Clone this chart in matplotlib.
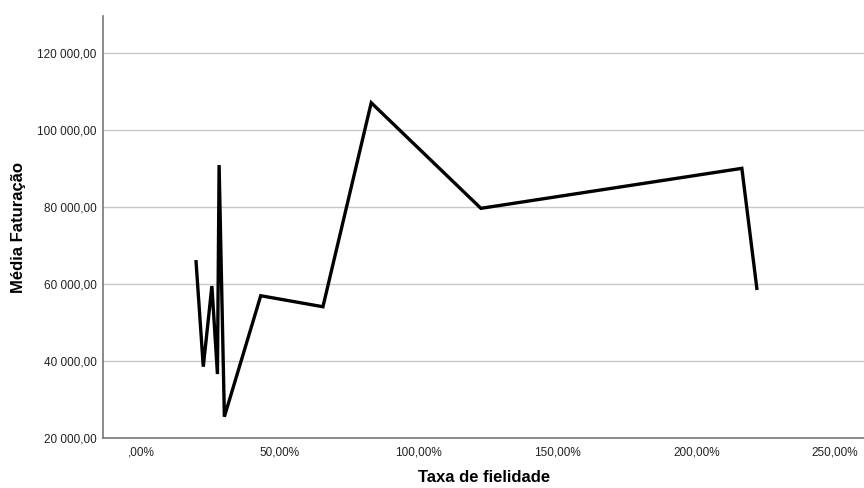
import matplotlib

matplotlib.use("Agg")
import matplotlib.pyplot as plt

# Taxa de fielidade (%) vs Média Faturação
taxa = [19.8, 22.4, 25.5, 27.5, 28.1, 30.0, 43.1, 65.5, 82.9, 122.4, 216.4, 221.8]
faturacao = [65870, 38600, 59560, 36700, 90990, 25610, 57040, 54180,
             107170, 79740, 90130, 58960]

x_ticks = [0, 50, 100, 150, 200, 250]
x_tick_labels = [",00%", "50,00%", "100,00%", "150,00%", "200,00%", "250,00%"]
y_ticks = [20000, 40000, 60000, 80000, 100000, 120000]
y_tick_labels = ["20 000,00", "40 000,00", "60 000,00", "80 000,00",
                 "100 000,00", "120 000,00"]

plt.rcParams["font.family"] = ["Liberation Sans", "DejaVu Sans"]

fig = plt.figure(figsize=(8.64, 4.88), dpi=100)
ax = fig.add_axes([0.1196, 0.1018, 0.8804, 0.8654])

ax.plot(taxa, faturacao, color="black", lw=2.4, solid_joinstyle="miter", zorder=3)

ax.set_xlim(-13.6, 260.4)
ax.set_ylim(20000, 129700)
ax.set_xticks(x_ticks)
ax.set_xticklabels(x_tick_labels, fontsize=8.5, color="#222222")
ax.set_yticks(y_ticks)
ax.set_yticklabels(y_tick_labels, fontsize=8.5, color="#222222")
ax.tick_params(axis="both", length=0)
ax.tick_params(axis="x", pad=6)
ax.tick_params(axis="y", pad=5)

ax.grid(axis="y", color="#c8c8c8", lw=1.0, zorder=1)
ax.grid(axis="x", visible=False)
for side in ("top", "right"):
    ax.spines[side].set_visible(False)
for side in ("left", "bottom"):
    ax.spines[side].set_color("#777777")
    ax.spines[side].set_linewidth(1.2)

ax.set_xlabel("Taxa de fielidade", fontsize=12, fontweight="bold", labelpad=8)
ax.set_ylabel("Média Faturação", fontsize=12, fontweight="bold", labelpad=8)

fig.savefig("out.png", dpi=100)
